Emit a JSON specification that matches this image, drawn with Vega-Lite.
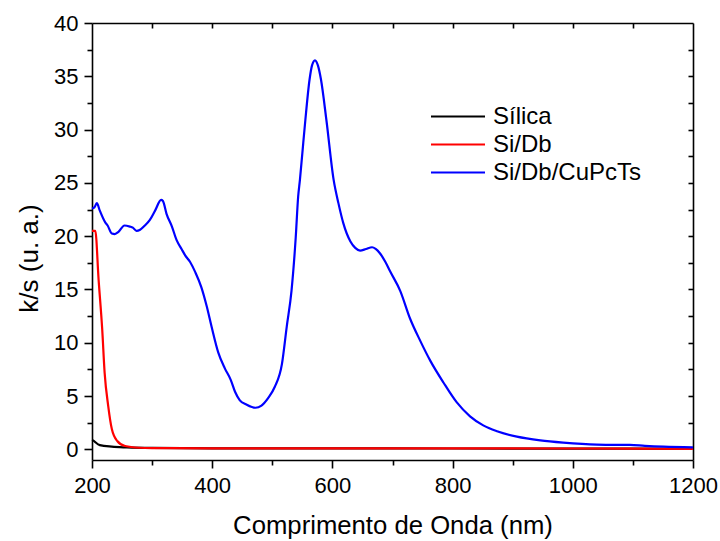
{
  "$schema": "https://vega.github.io/schema/vega-lite/v6.json",
  "width": 601,
  "height": 437,
  "autosize": "none",
  "padding": {"left": 92, "top": 23, "right": 27, "bottom": 81},
  "config": {
    "view": {"stroke": null},
    "font": "Liberation Sans",
    "axis": {
      "grid": false,
      "domainColor": "black",
      "tickColor": "black",
      "domainWidth": 1.6,
      "tickWidth": 1.6,
      "labelColor": "black",
      "titleColor": "black",
      "labelFont": "Liberation Sans",
      "titleFont": "Liberation Sans",
      "labelFontSize": 22,
      "titleFontSize": 25.7,
      "titleFontWeight": "normal"
    }
  },
  "data": {
    "values": [
      {"serie": "Sílica", "nm": 200, "v": 0.87},
      {"serie": "Sílica", "nm": 203, "v": 0.8},
      {"serie": "Sílica", "nm": 206, "v": 0.65},
      {"serie": "Sílica", "nm": 213, "v": 0.4},
      {"serie": "Sílica", "nm": 233, "v": 0.25},
      {"serie": "Sílica", "nm": 258, "v": 0.18},
      {"serie": "Sílica", "nm": 300, "v": 0.13},
      {"serie": "Sílica", "nm": 400, "v": 0.1},
      {"serie": "Sílica", "nm": 600, "v": 0.1},
      {"serie": "Sílica", "nm": 800, "v": 0.08},
      {"serie": "Sílica", "nm": 1000, "v": 0.07},
      {"serie": "Sílica", "nm": 1200, "v": 0.05},
      {"serie": "Si/Db", "nm": 200, "v": 20.5},
      {"serie": "Si/Db", "nm": 205.5, "v": 20.5},
      {"serie": "Si/Db", "nm": 211, "v": 15.9},
      {"serie": "Si/Db", "nm": 217, "v": 11.25},
      {"serie": "Si/Db", "nm": 221, "v": 7.2},
      {"serie": "Si/Db", "nm": 227, "v": 4.06},
      {"serie": "Si/Db", "nm": 233, "v": 1.9},
      {"serie": "Si/Db", "nm": 242, "v": 0.78},
      {"serie": "Si/Db", "nm": 255, "v": 0.31},
      {"serie": "Si/Db", "nm": 278, "v": 0.15},
      {"serie": "Si/Db", "nm": 300, "v": 0.12},
      {"serie": "Si/Db", "nm": 400, "v": 0.1},
      {"serie": "Si/Db", "nm": 600, "v": 0.1},
      {"serie": "Si/Db", "nm": 800, "v": 0.1},
      {"serie": "Si/Db", "nm": 1000, "v": 0.08},
      {"serie": "Si/Db", "nm": 1200, "v": 0.05},
      {"serie": "Si/Db/CuPcTs", "nm": 200, "v": 22.6},
      {"serie": "Si/Db/CuPcTs", "nm": 204, "v": 22.7},
      {"serie": "Si/Db/CuPcTs", "nm": 208, "v": 23.1},
      {"serie": "Si/Db/CuPcTs", "nm": 213, "v": 22.4},
      {"serie": "Si/Db/CuPcTs", "nm": 222, "v": 21.3},
      {"serie": "Si/Db/CuPcTs", "nm": 226, "v": 21.0},
      {"serie": "Si/Db/CuPcTs", "nm": 233, "v": 20.25},
      {"serie": "Si/Db/CuPcTs", "nm": 238, "v": 20.2},
      {"serie": "Si/Db/CuPcTs", "nm": 244, "v": 20.4},
      {"serie": "Si/Db/CuPcTs", "nm": 254, "v": 21.0},
      {"serie": "Si/Db/CuPcTs", "nm": 263, "v": 20.9},
      {"serie": "Si/Db/CuPcTs", "nm": 268, "v": 20.8},
      {"serie": "Si/Db/CuPcTs", "nm": 274, "v": 20.5},
      {"serie": "Si/Db/CuPcTs", "nm": 280, "v": 20.6},
      {"serie": "Si/Db/CuPcTs", "nm": 288, "v": 21.0},
      {"serie": "Si/Db/CuPcTs", "nm": 296, "v": 21.5},
      {"serie": "Si/Db/CuPcTs", "nm": 305, "v": 22.4},
      {"serie": "Si/Db/CuPcTs", "nm": 315, "v": 23.4},
      {"serie": "Si/Db/CuPcTs", "nm": 318, "v": 23.3},
      {"serie": "Si/Db/CuPcTs", "nm": 324, "v": 22.1},
      {"serie": "Si/Db/CuPcTs", "nm": 333, "v": 20.9},
      {"serie": "Si/Db/CuPcTs", "nm": 341, "v": 19.6},
      {"serie": "Si/Db/CuPcTs", "nm": 349, "v": 18.8},
      {"serie": "Si/Db/CuPcTs", "nm": 355, "v": 18.2},
      {"serie": "Si/Db/CuPcTs", "nm": 363, "v": 17.6},
      {"serie": "Si/Db/CuPcTs", "nm": 372, "v": 16.6},
      {"serie": "Si/Db/CuPcTs", "nm": 382, "v": 15.2},
      {"serie": "Si/Db/CuPcTs", "nm": 391, "v": 13.4},
      {"serie": "Si/Db/CuPcTs", "nm": 399, "v": 11.5},
      {"serie": "Si/Db/CuPcTs", "nm": 410, "v": 9.1},
      {"serie": "Si/Db/CuPcTs", "nm": 421, "v": 7.6},
      {"serie": "Si/Db/CuPcTs", "nm": 431, "v": 6.5},
      {"serie": "Si/Db/CuPcTs", "nm": 438, "v": 5.4},
      {"serie": "Si/Db/CuPcTs", "nm": 446, "v": 4.6},
      {"serie": "Si/Db/CuPcTs", "nm": 457, "v": 4.2},
      {"serie": "Si/Db/CuPcTs", "nm": 472, "v": 3.9},
      {"serie": "Si/Db/CuPcTs", "nm": 482, "v": 4.1},
      {"serie": "Si/Db/CuPcTs", "nm": 493, "v": 4.8},
      {"serie": "Si/Db/CuPcTs", "nm": 504, "v": 5.85},
      {"serie": "Si/Db/CuPcTs", "nm": 516, "v": 8.0},
      {"serie": "Si/Db/CuPcTs", "nm": 524, "v": 11.5},
      {"serie": "Si/Db/CuPcTs", "nm": 532, "v": 14.9},
      {"serie": "Si/Db/CuPcTs", "nm": 539, "v": 19.9},
      {"serie": "Si/Db/CuPcTs", "nm": 543, "v": 23.7},
      {"serie": "Si/Db/CuPcTs", "nm": 546, "v": 25.3},
      {"serie": "Si/Db/CuPcTs", "nm": 550, "v": 27.8},
      {"serie": "Si/Db/CuPcTs", "nm": 555, "v": 30.9},
      {"serie": "Si/Db/CuPcTs", "nm": 562, "v": 34.7},
      {"serie": "Si/Db/CuPcTs", "nm": 566, "v": 36.0},
      {"serie": "Si/Db/CuPcTs", "nm": 571, "v": 36.5},
      {"serie": "Si/Db/CuPcTs", "nm": 576, "v": 36.0},
      {"serie": "Si/Db/CuPcTs", "nm": 581, "v": 34.7},
      {"serie": "Si/Db/CuPcTs", "nm": 590, "v": 30.9},
      {"serie": "Si/Db/CuPcTs", "nm": 602, "v": 25.3},
      {"serie": "Si/Db/CuPcTs", "nm": 610, "v": 23.1},
      {"serie": "Si/Db/CuPcTs", "nm": 618, "v": 21.25},
      {"serie": "Si/Db/CuPcTs", "nm": 630, "v": 19.5},
      {"serie": "Si/Db/CuPcTs", "nm": 638, "v": 18.9},
      {"serie": "Si/Db/CuPcTs", "nm": 646, "v": 18.65},
      {"serie": "Si/Db/CuPcTs", "nm": 656, "v": 18.8},
      {"serie": "Si/Db/CuPcTs", "nm": 666, "v": 18.96},
      {"serie": "Si/Db/CuPcTs", "nm": 672, "v": 18.8},
      {"serie": "Si/Db/CuPcTs", "nm": 679, "v": 18.4},
      {"serie": "Si/Db/CuPcTs", "nm": 688, "v": 17.6},
      {"serie": "Si/Db/CuPcTs", "nm": 696, "v": 16.7},
      {"serie": "Si/Db/CuPcTs", "nm": 713, "v": 14.85},
      {"serie": "Si/Db/CuPcTs", "nm": 729, "v": 12.3},
      {"serie": "Si/Db/CuPcTs", "nm": 746, "v": 10.2},
      {"serie": "Si/Db/CuPcTs", "nm": 763, "v": 8.3},
      {"serie": "Si/Db/CuPcTs", "nm": 785, "v": 6.25},
      {"serie": "Si/Db/CuPcTs", "nm": 807, "v": 4.4},
      {"serie": "Si/Db/CuPcTs", "nm": 829, "v": 3.1},
      {"serie": "Si/Db/CuPcTs", "nm": 851, "v": 2.25},
      {"serie": "Si/Db/CuPcTs", "nm": 874, "v": 1.7},
      {"serie": "Si/Db/CuPcTs", "nm": 907, "v": 1.19},
      {"serie": "Si/Db/CuPcTs", "nm": 946, "v": 0.84},
      {"serie": "Si/Db/CuPcTs", "nm": 984, "v": 0.63},
      {"serie": "Si/Db/CuPcTs", "nm": 1040, "v": 0.44},
      {"serie": "Si/Db/CuPcTs", "nm": 1070, "v": 0.42},
      {"serie": "Si/Db/CuPcTs", "nm": 1095, "v": 0.42},
      {"serie": "Si/Db/CuPcTs", "nm": 1120, "v": 0.33},
      {"serie": "Si/Db/CuPcTs", "nm": 1151, "v": 0.25},
      {"serie": "Si/Db/CuPcTs", "nm": 1200, "v": 0.19}
    ]
  },
  "layer": [
    {
      "mark": {"type": "line", "strokeWidth": 2.2, "interpolate": "monotone"},
      "encoding": {
        "x": {
          "field": "nm", "type": "quantitative",
          "scale": {"domain": [200, 1200], "nice": false, "zero": false},
          "axis": {
            "orient": "bottom",
            "values": [200, 400, 600, 800, 1000, 1200],
            "format": "d",
            "tickSize": 8,
            "labelPadding": 7,
            "labelFlush": false,
            "title": "Comprimento de Onda (nm)",
            "titlePadding": 17
          }
        },
        "y": {
          "field": "v", "type": "quantitative",
          "scale": {"domain": [-1, 40], "nice": false, "zero": false},
          "axis": {
            "orient": "left",
            "values": [0, 5, 10, 15, 20, 25, 30, 35, 40],
            "tickSize": 8,
            "labelPadding": 6,
            "labelFlush": false,
            "title": "k/s (u. a.)",
            "titleFontSize": 26,
            "titleY": 235,
            "titlePadding": 11
          }
        },
        "color": {
          "field": "serie", "type": "nominal",
          "scale": {"domain": ["Sílica", "Si/Db", "Si/Db/CuPcTs"], "range": ["#000000", "#ff0000", "#0000ff"]},
          "legend": {
            "title": null,
            "orient": "none",
            "legendX": 351.5,
            "legendY": 79,
            "padding": 0,
            "symbolType": "M-2,0H2",
            "symbolSize": 729,
            "symbolStrokeWidth": 2,
            "labelFontSize": 24,
            "labelFont": "Liberation Sans",
            "labelColor": "black",
            "labelOffset": 20.5,
            "rowPadding": 1
          }
        }
      }
    },
    {
      "mark": {"type": "point", "opacity": 0},
      "encoding": {
        "x": {
          "field": "nm", "type": "quantitative",
          "axis": {"orient": "bottom", "values": [300, 500, 700, 900, 1100], "tickSize": 5, "labels": false, "domain": false, "title": null}
        },
        "y": {
          "field": "v", "type": "quantitative",
          "axis": {"orient": "left", "values": [2.5, 7.5, 12.5, 17.5, 22.5, 27.5, 32.5, 37.5], "tickSize": 5, "labels": false, "domain": false, "title": null}
        }
      }
    },
    {
      "mark": {"type": "point", "opacity": 0},
      "encoding": {
        "x": {
          "field": "nm", "type": "quantitative",
          "axis": {"orient": "top", "values": [300, 400, 500, 600, 700, 800, 900, 1000, 1100], "tickSize": -5, "labels": false, "title": null}
        },
        "y": {
          "field": "v", "type": "quantitative",
          "axis": {"orient": "right", "values": [2.5, 5, 7.5, 10, 12.5, 15, 17.5, 20, 22.5, 25, 27.5, 30, 32.5, 35, 37.5], "tickSize": -5, "labels": false, "title": null}
        }
      }
    }
  ],
  "resolve": {"axis": {"x": "independent", "y": "independent"}}
}
